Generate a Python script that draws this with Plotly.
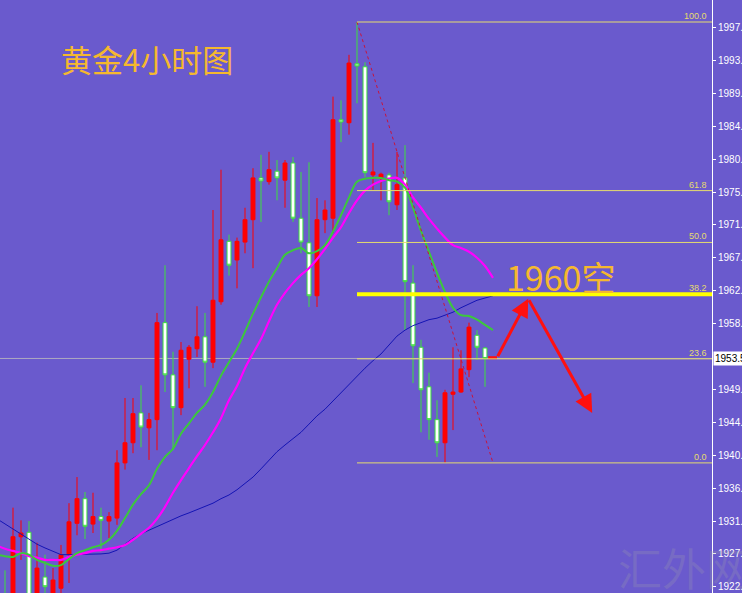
import plotly.graph_objects as go

# ---------------- data ----------------
candle_idx = list(range(61))
opens = [1921.5, 1920.0, 1929.6, 1930.2, 1921.0, 1924.2, 1921.0, 1922.7, 1927.2, 1931.4,
         1934.7, 1931.3, 1932.3, 1931.7, 1932.1, 1939.5, 1942.2, 1946.2, 1944.2, 1945.3,
         1958.3, 1951.3, 1946.9, 1953.4, 1954.8, 1956.4, 1953.0, 1961.1, 1969.2, 1966.7,
         1969.1, 1972.1, 1977.7, 1977.2, 1978.6, 1977.4, 1979.7, 1972.3, 1969.0, 1961.9,
         1972.1, 1972.3, 1985.5, 1985.1, 1993.0, 1992.6, 1978.1, 1977.7, 1978.1, 1974.1,
         1977.7, 1963.6, 1955.0, 1949.7, 1945.3, 1942.2, 1948.7, 1949.0, 1952.0, 1956.6,
         1954.9]
highs = [1925.1, 1933.5, 1931.8, 1931.7, 1928.8, 1927.2, 1925.4, 1928.5, 1934.1, 1937.6,
         1935.6, 1935.5, 1933.5, 1932.9, 1941.2, 1948.2, 1948.2, 1949.9, 1946.2, 1959.6,
         1966.0, 1954.4, 1955.7, 1955.3, 1960.5, 1959.6, 1973.4, 1978.8, 1970.1, 1969.7,
         1973.7, 1979.0, 1980.8, 1981.2, 1980.1, 1980.1, 1980.5, 1978.5, 1979.8, 1975.0,
         1974.7, 1988.6, 1988.1, 1994.2, 1998.6, 1993.2, 1982.4, 1978.4, 1978.4, 1981.2,
         1982.1, 1966.0, 1956.0, 1951.6, 1947.9, 1949.3, 1955.0, 1954.6, 1958.3, 1957.3,
         1955.0]
lows = [1918.0, 1919.0, 1926.5, 1918.5, 1920.0, 1921.5, 1920.0, 1921.5, 1923.4, 1929.8,
        1929.3, 1930.1, 1927.6, 1929.4, 1931.2, 1938.6, 1940.8, 1941.6, 1939.9, 1941.2,
        1949.0, 1941.2, 1945.9, 1949.5, 1953.7, 1949.7, 1952.2, 1960.7, 1964.6, 1962.9,
        1967.6, 1965.6, 1971.8, 1976.8, 1974.7, 1973.7, 1971.8, 1967.6, 1960.4, 1960.4,
        1970.3, 1970.3, 1982.5, 1983.5, 1987.7, 1977.8, 1976.1, 1974.7, 1972.7, 1973.4,
        1957.3, 1950.2, 1943.6, 1942.6, 1940.3, 1939.5, 1943.9, 1948.9, 1951.0, 1953.3,
        1949.7]
closes = [1919.0, 1929.6, 1930.1, 1920.0, 1925.4, 1922.9, 1923.8, 1927.2, 1931.6, 1934.7,
          1931.0, 1932.3, 1931.8, 1932.3, 1939.5, 1942.2, 1946.1, 1944.3, 1945.3, 1958.3,
          1951.3, 1946.9, 1954.6, 1955.0, 1956.4, 1953.0, 1961.3, 1969.4, 1966.0, 1969.2,
          1972.1, 1977.7, 1977.3, 1978.8, 1977.7, 1979.7, 1972.3, 1969.1, 1961.9, 1972.1,
          1973.4, 1985.5, 1985.2, 1993.1, 1992.7, 1978.4, 1978.5, 1978.2, 1974.5, 1976.8,
          1963.8, 1955.2, 1949.3, 1945.3, 1942.2, 1948.9, 1949.0, 1952.1, 1957.7, 1955.0,
          1953.5]

ma_idx = list(range(-1, 62))
ma_green = [1927.2, 1927.0, 1926.9, 1927.4, 1927.2, 1926.5, 1926.1, 1925.7, 1925.8, 1926.6,
            1927.4, 1927.8, 1928.2, 1928.5, 1929.2, 1930.4, 1932.1, 1933.9, 1935.3, 1936.5,
            1938.7, 1940.3, 1941.4, 1943.4, 1944.8, 1946.2, 1947.3, 1949.0, 1951.2, 1953.0,
            1954.8, 1957.1, 1959.5, 1961.7, 1963.8, 1965.6, 1967.4, 1968.0, 1968.3, 1967.6,
            1967.9, 1968.7, 1970.5, 1972.7, 1975.1, 1977.2, 1977.6, 1977.7, 1977.7, 1977.4,
            1977.2, 1976.4, 1973.7, 1970.6, 1967.8, 1965.0, 1962.4, 1960.3, 1959.3, 1959.2,
            1958.7, 1958.0, 1957.3]
ma_magenta = [1928.4, 1928.0, 1927.7, 1927.4, 1927.0, 1926.8, 1926.5, 1926.5, 1926.5, 1926.9,
              1927.2, 1927.4, 1927.7, 1927.8, 1928.0, 1928.2, 1928.5, 1929.2, 1930.0, 1930.8,
              1932.0, 1933.6, 1935.5, 1937.2, 1938.8, 1940.4, 1941.9, 1943.6, 1945.5, 1947.9,
              1949.8, 1952.2, 1954.2, 1956.1, 1958.5, 1960.7, 1962.3, 1963.6, 1964.7, 1965.6,
              1966.8, 1968.2, 1969.7, 1971.1, 1973.0, 1974.7, 1976.0, 1976.8, 1977.3, 1977.6,
              1977.7, 1976.8, 1975.1, 1973.7, 1972.2, 1970.9, 1969.7, 1968.7, 1968.3, 1967.8,
              1967.0, 1965.9, 1964.3]
ma_blue = [1932.0, 1931.3, 1930.6, 1930.0, 1929.3, 1928.6, 1928.1, 1927.6, 1927.2, 1927.2,
           1927.2, 1927.2, 1927.2, 1927.3, 1927.4, 1927.8, 1928.6, 1929.4, 1930.0, 1930.5,
           1930.9, 1931.4, 1932.0, 1932.4, 1932.8, 1933.2, 1933.7, 1934.1, 1934.7, 1935.2,
           1935.9, 1936.7, 1937.6, 1938.7, 1939.9, 1941.0, 1941.9, 1942.7, 1943.6, 1944.7,
           1945.8, 1946.7, 1947.8, 1948.9, 1950.1, 1951.2, 1952.2, 1953.2, 1954.1, 1955.3,
           1956.5, 1957.3, 1957.9, 1958.3, 1958.7, 1958.9, 1959.3, 1959.7, 1960.3, 1960.8,
           1961.3, 1961.6, 1961.9]

fib_labels = ["100.0", "61.8", "50.0", "38.2", "23.6", "0.0"]
fib_prices = [1998.6, 1976.0, 1969.05, 1962.1, 1953.45, 1939.5]
fib_start_idx = 44
fib_trend = {"x": [44, 61], "y": [1998.6, 1939.5]}

current_price = 1953.5
tick_vals = [1997.8, 1993.4, 1989.0, 1984.6, 1980.2, 1975.8, 1971.4, 1967.0, 1962.6,
             1958.2, 1949.4, 1944.9, 1940.5, 1936.1, 1931.7, 1927.3, 1922.9]
tick_text = ["1997.8", "1993.4", "1989.0", "1984.6", "1980.2", "1975.8", "1971.4", "1967.0",
             "1962.6", "1958.2", "1949.4", "1944.9", "1940.5", "1936.1", "1931.7", "1927.3",
             "1922.9"]

# forecast arrow path (index, price)
arrow_flat = {"x": [60.4, 61.5], "y": [1953.6, 1953.6]}
arrow_apex = (65.4, 1961.5)
arrow_end = (73.4, 1946.2)

X_RANGE = [-0.625, 88.375]
Y_RANGE = [1922.06, 2001.55]
BG = "#6A5ACD"

fig = go.Figure()

fig.add_trace(go.Candlestick(
    x=candle_idx, open=opens, high=highs, low=lows, close=closes,
    increasing=dict(line=dict(color="#ff0000", width=1), fillcolor="#ff0000"),
    decreasing=dict(line=dict(color="#3ce03c", width=1), fillcolor="#ffffff"),
    whiskerwidth=0, hoverinfo="skip", showlegend=False))

fig.add_trace(go.Scatter(x=ma_idx, y=ma_blue, mode="lines",
                         line=dict(color="#1414b4", width=1), showlegend=False, hoverinfo="skip"))
fig.add_trace(go.Scatter(x=ma_idx, y=ma_magenta, mode="lines",
                         line=dict(color="#ff00ff", width=2.2, shape="spline"),
                         showlegend=False, hoverinfo="skip"))
fig.add_trace(go.Scatter(x=ma_idx, y=ma_green, mode="lines",
                         line=dict(color="#3cc83c", width=2, shape="spline"),
                         showlegend=False, hoverinfo="skip"))

# fib trend dashed line
fig.add_trace(go.Scatter(x=fib_trend["x"], y=fib_trend["y"], mode="lines",
                         line=dict(color="#c8143c", width=1, dash="dot"),
                         showlegend=False, hoverinfo="skip"))

shapes = []
# current price line
shapes.append(dict(type="line", xref="x", yref="y", x0=X_RANGE[0], x1=X_RANGE[1],
                   y0=current_price, y1=current_price,
                   line=dict(color="rgba(190,190,190,0.8)", width=1), layer="below"))
annotations = []
for lab, p in zip(fib_labels, fib_prices):
    thick = lab == "38.2"
    shapes.append(dict(type="line", xref="x", yref="y", x0=fib_start_idx, x1=X_RANGE[1],
                       y0=p, y1=p,
                       line=dict(color="#ffff00" if thick else "#e6dc6e",
                                 width=4 if thick else 1), layer="above"))
    annotations.append(dict(x=88.0, y=p, xref="x", yref="y", text=lab, showarrow=False,
                            xanchor="right", yanchor="bottom", yshift=-1,
                            font=dict(family="Liberation Sans", size=9, color="#e6dc6e")))

# forecast arrows
fig.add_trace(go.Scatter(x=arrow_flat["x"], y=arrow_flat["y"], mode="lines",
                         line=dict(color="#ff1010", width=3), showlegend=False, hoverinfo="skip"))
annotations.append(dict(x=arrow_apex[0], y=arrow_apex[1], ax=arrow_flat["x"][1], ay=arrow_flat["y"][1],
                        xref="x", yref="y", axref="x", ayref="y", text="", showarrow=True,
                        arrowhead=2, arrowsize=1.2, arrowwidth=3, arrowcolor="#ff1010"))
annotations.append(dict(x=arrow_end[0], y=arrow_end[1], ax=arrow_apex[0], ay=arrow_apex[1],
                        xref="x", yref="y", axref="x", ayref="y", text="", showarrow=True,
                        arrowhead=2, arrowsize=1.2, arrowwidth=3, arrowcolor="#ff1010"))

# texts
annotations.append(dict(x=59 / 712, y=1 - 58 / 593, xref="paper", yref="paper", text="黄金4小时图",
                        showarrow=False, xanchor="left", yanchor="middle",
                        font=dict(family="Noto Sans CJK SC", size=31, color="#f5b82e")))
annotations.append(dict(x=504 / 712, y=1 - 276 / 593, xref="paper", yref="paper", text="1960空",
                        showarrow=False, xanchor="left", yanchor="middle",
                        font=dict(family="Noto Sans CJK SC", size=34, color="#f5b82e")))
annotations.append(dict(x=684 / 712, y=1 - 567 / 593, xref="paper", yref="paper", text="汇外网",
                        showarrow=False, xanchor="center", yanchor="middle",
                        font=dict(family="Noto Sans CJK SC", size=44, color="rgba(160,160,170,0.25)")))
# current price tag
annotations.append(dict(x=1.0, y=current_price, xref="paper", yref="y", text=f"{current_price:.1f}",
                        showarrow=False, xanchor="left", yanchor="middle", xshift=1,
                        bgcolor="#ffffff", borderpad=1,
                        font=dict(family="Liberation Sans", size=10, color="#000000")))

fig.update_layout(
    width=742, height=593,
    margin=dict(l=0, r=30, t=0, b=0, autoexpand=False),
    paper_bgcolor=BG, plot_bgcolor=BG,
    shapes=shapes, annotations=annotations,
    showlegend=False,
    xaxis=dict(range=X_RANGE, visible=False, rangeslider=dict(visible=False),
               fixedrange=True, automargin=False),
    yaxis=dict(range=Y_RANGE, side="right", showgrid=False, zeroline=False, automargin=False,
               showline=True, linecolor="#ffffff", linewidth=1,
               ticks="outside", ticklen=3, tickcolor="#ffffff",
               tickvals=tick_vals, ticktext=tick_text,
               tickfont=dict(family="Liberation Sans", size=10, color="#ffffff")),
)

fig.write_html(
    "out.html",
    config={"displayModeBar": False},
    post_script="document.body.style.margin='0';document.body.style.padding='0';"
                "document.body.style.overflow='hidden';document.body.style.background='" + BG + "';",
)
